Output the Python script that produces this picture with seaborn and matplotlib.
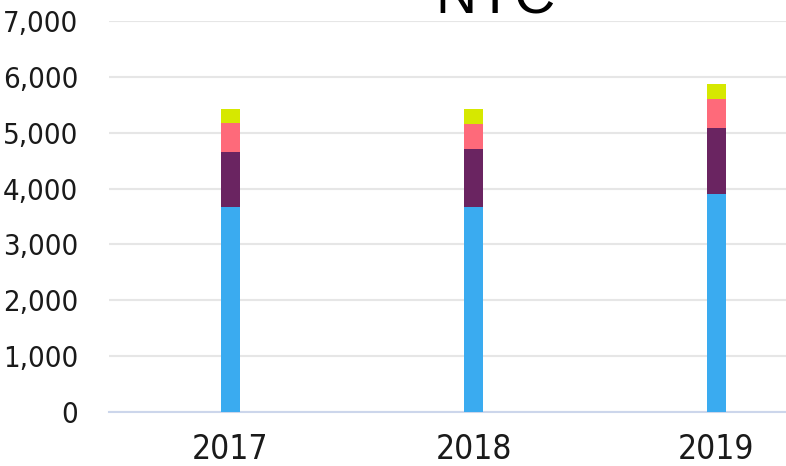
import numpy as np
import pandas as pd
import seaborn as sns
import matplotlib.pyplot as plt
from matplotlib.ticker import FuncFormatter

years = ["2017", "2018", "2019"]
blue_vals = [3670, 3670, 3900]
purple_vals = [990, 1040, 1180]
pink_vals = [510, 450, 520]
yellow_vals = [260, 270, 280]

layers = [blue_vals, purple_vals, pink_vals, yellow_vals]
layer_colors = ["#3aabf0", "#6a2461", "#fe6a7a", "#d6e800"]

sns.set_theme(style="white")
plt.rcParams["font.family"] = ["DejaVu Sans"]
plt.rcParams["font.stretch"] = "condensed"

fig = plt.figure(figsize=(7.86, 4.66), dpi=100)
ax = fig.add_axes([109 / 786, 1 - 412 / 466, 1 - 109 / 786, (412 - 21) / 466])

# stacked bars: draw cumulative totals from the top layer down
cum = np.cumsum(np.array(layers), axis=0)
for i in range(len(layers) - 1, -1, -1):
    df = pd.DataFrame({"year": years, "value": cum[i]})
    sns.barplot(data=df, x="year", y="value", order=years, color=layer_colors[i],
                width=0.08, saturation=1, ax=ax, zorder=3, edgecolor="none")

ax.set_ylim(0, 7000)
ax.set_xlim(-0.5, 2.5 - (838 - 786) / 243)
ax.set_yticks(range(0, 7001, 1000))
ax.yaxis.set_major_formatter(FuncFormatter(lambda v, p: f"{int(v):,}"))
ax.grid(axis="y", color="#e6e6e6", linewidth=1.5, zorder=0)
ax.set_xlabel("")
ax.set_ylabel("")
for s in ["top", "right", "left"]:
    ax.spines[s].set_visible(False)
ax.spines["bottom"].set_color("#ccd6eb")
ax.spines["bottom"].set_linewidth(1.5)
ax.tick_params(axis="both", length=0, colors="#1a1a1a")
ax.tick_params(axis="y", labelsize=21, pad=22)
ax.tick_params(axis="x", labelsize=24, pad=15)

fig.text(496 / 786, 1 - 14 / 466, "NYC", ha="center", va="baseline",
         fontsize=41, family=["Liberation Sans", "DejaVu Sans"],
         stretch="normal", color="black")

fig.savefig("out.png", dpi=100)
